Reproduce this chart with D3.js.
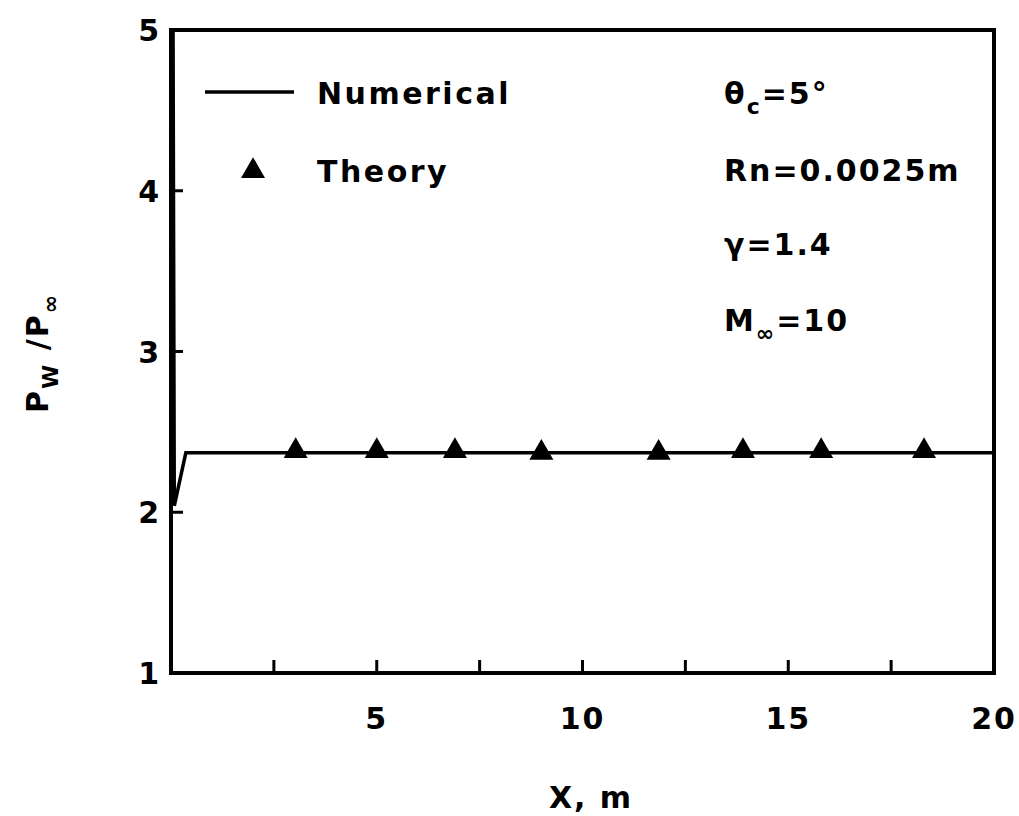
<!DOCTYPE html>
<html><head><meta charset="utf-8">
<script src="https://cdn.jsdelivr.net/npm/d3@7"></script>
<style>
body{margin:0;background:#fff;}
svg text{font-family:"DejaVu Sans",sans-serif;font-weight:bold;fill:#000;}
</style></head>
<body><svg id="c" width="1019" height="816"></svg>
<script>
const numX = [0.05, 0.08, 0.36, 20];
const numY = [5.0, 2.04, 2.37, 2.37];
const theoryX = [3.03, 5.0, 6.9, 9.0, 11.85, 13.9, 15.8, 18.3];
const theoryY = [2.38, 2.38, 2.38, 2.37, 2.37, 2.38, 2.38, 2.38];
const xTickLabels = [5, 10, 15, 20];
const xTickMarks = [2.5, 5, 7.5, 10, 12.5, 15, 17.5];
const yTickLabels = [1, 2, 3, 4, 5];
const yTickMarks = [2, 3, 4];
const annotations = ["θ|c|=5°", "Rn=0.0025m", "γ=1.4", "M|∞|=10"];

const svg = d3.select("#c");
const x = d3.scaleLinear().domain([0,20]).range([171,994]);
const y = d3.scaleLinear().domain([1,5]).range([673,30]);

// frame
svg.append("rect").attr("x",x(0)).attr("y",y(5)).attr("width",x(20)-x(0)).attr("height",y(1)-y(5))
  .attr("fill","none").attr("stroke","#000").attr("stroke-width",4);

// inner ticks
svg.selectAll(".xt").data(xTickMarks).enter().append("line")
  .attr("x1",d=>x(d)).attr("x2",d=>x(d)).attr("y1",y(1)).attr("y2",y(1)-13)
  .attr("stroke","#000").attr("stroke-width",3);
svg.selectAll(".yt").data(yTickMarks).enter().append("line")
  .attr("x1",x(0)).attr("x2",x(0)+12).attr("y1",d=>y(d)).attr("y2",d=>y(d))
  .attr("stroke","#000").attr("stroke-width",3);

// tick labels
svg.selectAll(".xl").data(xTickLabels).enter().append("text")
  .attr("x",d=>x(d)).attr("y",y(1)+56).attr("text-anchor","middle")
  .attr("font-size",30).attr("letter-spacing",2).text(d=>d);
svg.selectAll(".yl").data(yTickLabels).enter().append("text")
  .attr("x",x(0)-12).attr("y",d=>y(d)+11).attr("text-anchor","end")
  .attr("font-size",30).text(d=>d);

// axis titles
svg.append("text").attr("x",591).attr("y",808).attr("text-anchor","middle")
  .attr("font-size",30).attr("letter-spacing",2).attr("xml:space","preserve").text("X, m");
const yt = svg.append("text").attr("transform","translate(48,353) rotate(-90)")
  .attr("text-anchor","middle").attr("font-size",30).attr("letter-spacing",2);
yt.append("tspan").text("P");
yt.append("tspan").attr("dy",10).attr("font-size",22).text("W");
yt.append("tspan").attr("dy",-10).text(" /P");
yt.append("tspan").attr("dy",10).attr("font-size",22).text("∞");

// numerical line
const line = d3.line().x(d=>x(d[0])).y(d=>y(d[1]));
svg.append("path").datum(d3.zip(numX,numY)).attr("d",line)
  .attr("fill","none").attr("stroke","#000").attr("stroke-width",3.5).attr("stroke-linejoin","miter");

// theory triangles
const tri = d3.symbol().type(d3.symbolTriangle).size(250);
svg.selectAll(".tri").data(d3.zip(theoryX,theoryY)).enter().append("path")
  .attr("d",tri).attr("transform",d=>`translate(${x(d[0])},${y(d[1])})`).attr("fill","#000");

// legend
svg.append("line").attr("x1",205).attr("x2",294).attr("y1",92).attr("y2",92)
  .attr("stroke","#000").attr("stroke-width",3.5);
svg.append("text").attr("x",317).attr("y",104).attr("font-size",30).attr("letter-spacing",2.5).text("Numerical");
svg.append("path").attr("d",d3.symbol().type(d3.symbolTriangle).size(250))
  .attr("transform","translate(253,171)").attr("fill","#000");
svg.append("text").attr("x",317).attr("y",182).attr("font-size",30).attr("letter-spacing",2.5).text("Theory");

// annotations
const annY = [104, 181, 255, 331];
annotations.forEach((a,i)=>{
  const t = svg.append("text").attr("x",724).attr("y",annY[i]).attr("font-size",30).attr("letter-spacing",2);
  const parts = a.split("|");
  if(parts.length===1){ t.text(a); }
  else {
    t.append("tspan").text(parts[0]);
    t.append("tspan").attr("dy",10).attr("font-size",22).text(parts[1]);
    t.append("tspan").attr("dy",-10).text(parts[2]);
  }
});
</script></body></html>
